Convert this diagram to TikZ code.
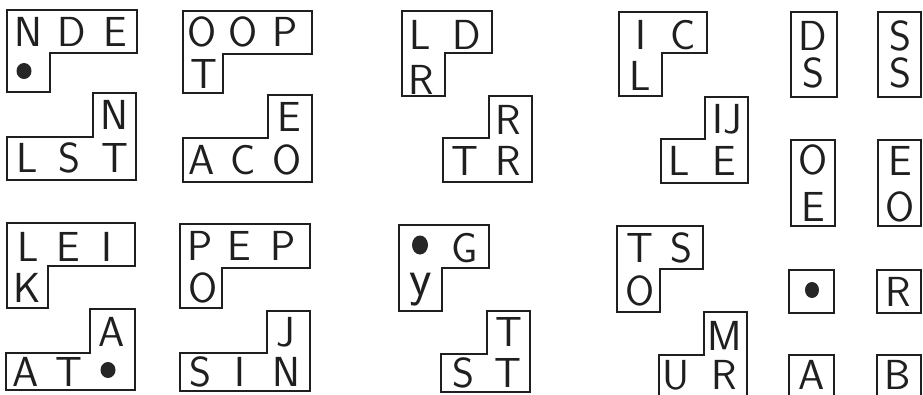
\documentclass[tikz,border=0pt]{standalone}
\begin{document}
\begin{tikzpicture}[x=1pt,y=-1pt,
  piece/.style={draw=black!88, line width=1.9pt, line join=miter},
  let/.style={inner sep=0pt, text=black!88, font=\fontsize{42}{42}\sffamily},
  lety/.style={inner sep=0pt, text=black!88, font=\fontsize{52}{52}\sffamily},
  blob/.style={fill=black!85, draw=none}]
\useasboundingbox (0,0) rectangle (923,394);
\clip (0,0) rectangle (923,394);
\fill[white] (0,0) rectangle (923,394);

% ---- top-left block ----
\draw[piece] (7,10) -- (137,10) -- (137,53) -- (50,53) -- (50,92) -- (7,92) -- cycle;
\node[let] (nde1) at (28,32) {N};
\node[let] (nde2) at (72,32) {D};
\node[let] (nde3) at (115,32) {E};
\fill[blob] (24,71) ellipse (7.5 and 8);

\draw[piece] (93,93) -- (136,93) -- (136,180) -- (7,180) -- (7,137) -- (93,137) -- cycle;
\node[let] (lst1) at (114,115) {N};
\node[let] (lst2) at (27,158) {L};
\node[let] (lst3) at (69,158) {S};
\node[let] (lst4) at (115,158) {T};

\draw[piece] (183,11) -- (312,11) -- (312,54) -- (223,54) -- (223,93) -- (183,93) -- cycle;
\node[let] (oop1) at (202,32) {O};
\node[let] (oop2) at (243,32) {O};
\node[let] (oop3) at (285,32) {P};
\node[let] (oop4) at (204,74) {T};

\draw[piece] (268,95) -- (312,95) -- (312,182) -- (183,182) -- (183,138) -- (268,138) -- cycle;
\node[let] (aco1) at (289,117) {E};
\node[let] (aco2) at (202,160) {A};
\node[let] (aco3) at (243,160) {C};
\node[let] (aco4) at (287,160) {O};

% ---- top-middle ----
\draw[piece] (402,11) -- (492,11) -- (492,53) -- (445,53) -- (445,96) -- (402,96) -- cycle;
\node[let] (ldr1) at (420,35) {L};
\node[let] (ldr2) at (467,35) {D};
\node[let] (ldr3) at (421,80) {R};

\draw[piece] (489,96) -- (532,96) -- (532,182) -- (443,182) -- (443,138) -- (489,138) -- cycle;
\node[let] (trr1) at (508,120) {R};
\node[let] (trr2) at (465,161) {T};
\node[let] (trr3) at (508,161) {R};

% ---- top-right ----
\draw[piece] (619,12) -- (707,12) -- (707,53) -- (662,53) -- (662,96) -- (619,96) -- cycle;
\node[let] (icl1) at (641,35) {I};
\node[let] (icl2) at (683,35) {C};
\node[let] (icl3) at (640,76) {L};

\draw[piece] (705,97) -- (748,97) -- (748,183) -- (661,183) -- (661,139) -- (705,139) -- cycle;
\node[let] (ije1) at (727,119) {IJ};
\node[let] (ije2) at (679,161) {L};
\node[let] (ije3) at (724,161) {E};

\draw[piece] (791,12) rectangle (837,97);
\node[let] (ds1) at (813,36) {D};
\node[let] (ds2) at (813,73) {S};

\draw[piece] (878,12) rectangle (921,97);
\node[let] (ss1) at (900,36) {S};
\node[let] (ss2) at (900,73) {S};

\draw[piece] (791,140) rectangle (835,226);
\node[let] (oe1) at (813,160) {O};
\node[let] (oe2) at (813,207) {E};

\draw[piece] (878,140) rectangle (921,226);
\node[let] (eo1) at (900,161) {E};
\node[let] (eo2) at (900,207) {O};

% ---- bottom-left ----
\draw[piece] (7,223) -- (135,223) -- (135,266) -- (48,266) -- (48,308) -- (7,308) -- cycle;
\node[let] (lei1) at (28,247) {L};
\node[let] (lei2) at (68,247) {E};
\node[let] (lei3) at (107,247) {I};
\node[let] (lei4) at (27,288) {K};

\draw[piece] (90,309) -- (135,309) -- (135,390) -- (6,390) -- (6,353) -- (90,353) -- cycle;
\node[let] (aat1) at (112,332) {A};
\node[let] (aat2) at (26,372) {A};
\node[let] (aat3) at (69,372) {T};
\fill[blob] (108,370) ellipse (7.5 and 8);

\draw[piece] (180,224) -- (310,224) -- (310,268) -- (222,268) -- (222,308) -- (180,308) -- cycle;
\node[let] (pep1) at (200,246) {P};
\node[let] (pep2) at (239,246) {E};
\node[let] (pep3) at (283,246) {P};
\node[let] (pep4) at (203,288) {O};

\draw[piece] (267,311) -- (310,311) -- (310,391) -- (180,391) -- (180,353) -- (267,353) -- cycle;
\node[let] (sin1) at (286,332) {J};
\node[let] (sin2) at (200,372) {S};
\node[let] (sin3) at (240,372) {I};
\node[let] (sin4) at (286,372) {N};

% ---- bottom-middle ----
\draw[piece] (399,225) -- (489,225) -- (489,268) -- (442,268) -- (442,311) -- (399,311) -- cycle;
\fill[blob] (420,245) ellipse (8 and 9.5);
\node[let] (gy1) at (465,248) {G};
\node[lety] (gy2) at (421,290) {y};

\draw[piece] (487,311) -- (530,311) -- (530,392) -- (441,392) -- (441,354) -- (487,354) -- cycle;
\node[let] (stt1) at (509,332) {T};
\node[let] (stt2) at (463,373) {S};
\node[let] (stt3) at (508,373) {T};

% ---- bottom-right ----
\draw[piece] (617,226) -- (703,226) -- (703,269) -- (660,269) -- (660,312) -- (617,312) -- cycle;
\node[let] (tso1) at (640,248) {T};
\node[let] (tso2) at (681,248) {S};
\node[let] (tso3) at (640,291) {O};

\draw[piece] (704,312) -- (747,312) -- (747,397) -- (659,397) -- (659,355) -- (704,355) -- cycle;
\node[let] (mur1) at (725,336) {M};
\node[let] (mur2) at (676,375) {U};
\node[let] (mur3) at (724,375) {R};

\draw[piece] (789,270) rectangle (834,313);
\fill[blob] (812,290) ellipse (7 and 8);

\draw[piece] (877,270) rectangle (921,313);
\node[let] (r1) at (898,292) {R};

\draw[piece] (789,355) rectangle (834,397);
\node[let] (a1) at (812,375) {A};

\draw[piece] (877,355) rectangle (921,397);
\node[let] (b1) at (898,375) {B};
\end{tikzpicture}
\end{document}
